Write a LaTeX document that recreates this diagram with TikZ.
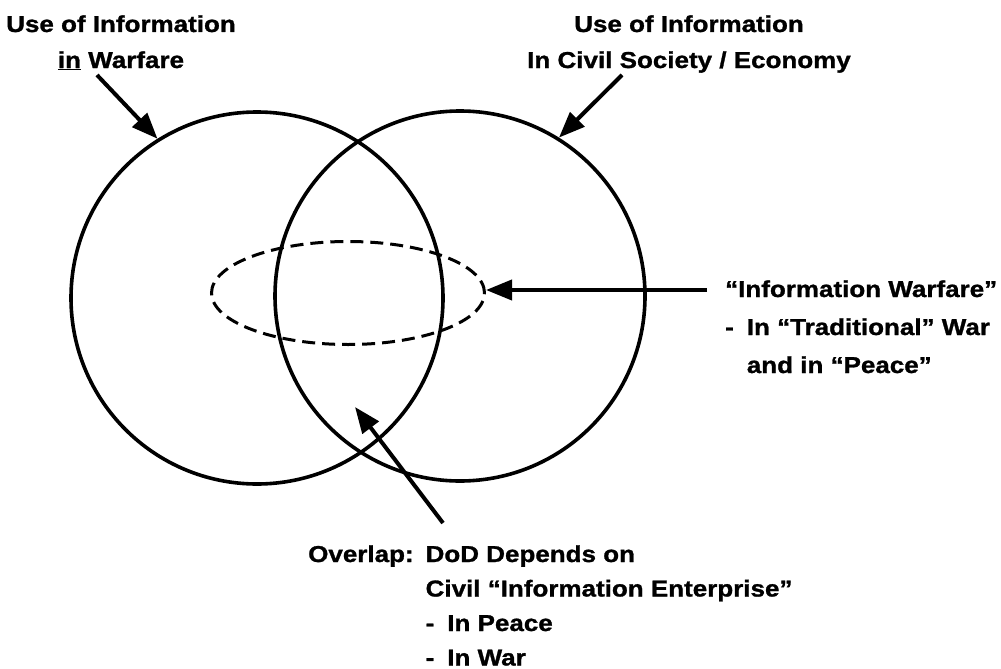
\documentclass[tikz,border=0pt]{standalone}
\usepackage{fontspec}
\setmainfont[FakeStretch=1.13,FakeBold=1.2]{Liberation Sans}
\usetikzlibrary{arrows.meta,shapes.geometric}
\tikzset{lbl/.style={font=\bfseries\fontsize{23}{36}\selectfont,inner sep=0pt},
	ring/.style={circle,draw,line width=3.6pt},
	pointer/.style={->,line width=4pt}}
\begin{document}
\begin{tikzpicture}[>={Triangle[length=26pt,width=20pt]},x=1pt,y=-1pt]
		\useasboundingbox (0,0) rectangle (1001,669);
		\node[ring,minimum size=372pt] (war) at (257,298) {};
		\node[ring,minimum size=370pt] (civil) at (460,296) {};
		\node[ellipse,draw,line width=3pt,dash pattern=on 13pt off 7pt,minimum width=273pt,minimum height=103pt] (iw) at (348,293) {};
		\node[lbl,anchor=base] (hwar) at (121,32) {\begin{tabular}[t]{@{}c@{}}Use of Information\\\underline{in} Warfare\end{tabular}};
		\node[lbl,anchor=base] (hcivil) at (689,32) {\begin{tabular}[t]{@{}c@{}}Use of Information\\In Civil Society / Economy\end{tabular}};
		\node[lbl,font=\bfseries\fontsize{23}{38}\selectfont,anchor=base west] (liw) at (725,297) {\begin{tabular}[t]{@{}l@{\hspace{13pt}}l@{}}\multicolumn{2}{@{}l@{}}{“Information Warfare”}\\-&In “Traditional” War\\&and in “Peace”\end{tabular}};
		\node[lbl,font=\bfseries\fontsize{23}{34.5}\selectfont,anchor=base west] (lover) at (308,562) {\begin{tabular}[t]{@{}l@{\hspace{12pt}}l@{}}Overlap:&DoD Depends on\\&Civil “Information Enterprise”\\&-\hspace{13pt}In Peace\\&-\hspace{13pt}In War\end{tabular}};
		\coordinate (swar) at (97,75);
		\coordinate (scivil) at (622,75);
		\coordinate (siw) at (707,290);
		\coordinate (sover) at (443,523);
		\coordinate (tover) at (355,407);
		\draw[pointer] (swar) -- (war.122);
		\draw[pointer] (scivil) -- (civil.58);
		\draw[pointer] (siw) -- (siw -| iw.east);
		\draw[pointer] (sover) -- (tover);
\end{tikzpicture}
\end{document}
